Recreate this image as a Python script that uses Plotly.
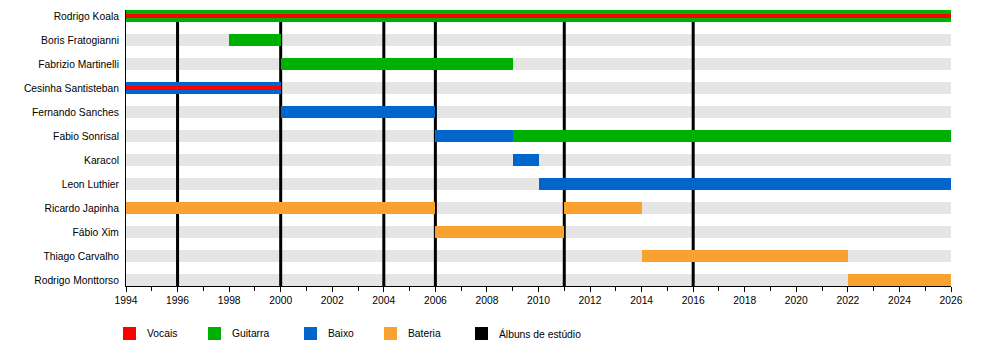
import plotly.graph_objects as go

# ---------------- data ----------------
members = [
    "Rodrigo Koala", "Boris Fratogianni", "Fabrizio Martinelli", "Cesinha Santisteban",
    "Fernando Sanches", "Fabio Sonrisal", "Karacol", "Leon Luthier",
    "Ricardo Japinha", "Fábio Xim", "Thiago Carvalho", "Rodrigo Monttorso",
]
roles = ["Vocais", "Guitarra", "Baixo", "Bateria"]
role_colors = {"Vocais": "#ff0000", "Guitarra": "#00b000", "Baixo": "#0066cc", "Bateria": "#f9a22f"}

period_member = ["Rodrigo Koala", "Rodrigo Koala", "Boris Fratogianni", "Fabrizio Martinelli",
                 "Cesinha Santisteban", "Cesinha Santisteban", "Fernando Sanches",
                 "Fabio Sonrisal", "Fabio Sonrisal", "Karacol", "Leon Luthier",
                 "Ricardo Japinha", "Ricardo Japinha", "Fábio Xim", "Thiago Carvalho",
                 "Rodrigo Monttorso"]
period_role = ["Guitarra", "Vocais", "Guitarra", "Guitarra",
               "Baixo", "Vocais", "Baixo",
               "Baixo", "Guitarra", "Baixo", "Baixo",
               "Bateria", "Bateria", "Bateria", "Bateria",
               "Bateria"]
period_start = [1994, 1994, 1998, 2000, 1994, 1994, 2000, 2006, 2009, 2009, 2010,
                1994, 2011, 2006, 2014, 2022]
period_end = [2026, 2026, 2000, 2009, 2000, 2000, 2006, 2009, 2026, 2010, 2026,
              2006, 2014, 2011, 2022, 2026]

albums = [1996, 2000, 2004, 2006, 2011, 2016]
album_label = "Álbuns de estúdio"
album_color = "#000000"

year_start, year_end = 1994, 2026

# ---------------- figure ----------------
FONT = "Liberation Sans, Arial, Helvetica, sans-serif"
FS = 10.3
GRAY = "#e5e5e5"
BAR_W = 0.5
VOC_W = 0.17

fig = go.Figure()

row_of = {m: i for i, m in enumerate(members)}

shapes = []
# gray background rows
for m in members:
    r = row_of[m]
    shapes.append(dict(type="rect", xref="x", yref="y", layer="below",
                       x0=year_start, x1=year_end, y0=r - BAR_W / 2, y1=r + BAR_W / 2,
                       fillcolor=GRAY, line=dict(width=0)))
# album lines
for a in albums:
    shapes.append(dict(type="line", xref="x", yref="y", layer="below",
                       x0=a, x1=a, y0=BAR_W / 2, y1=len(members) - 1 + BAR_W / 2,
                       line=dict(color=album_color, width=3)))

# colored bars, vocals drawn last (thin on top)
for role in ["Guitarra", "Baixo", "Bateria", "Vocais"]:
    idx = [i for i, r in enumerate(period_role) if r == role]
    if not idx:
        continue
    fig.add_trace(go.Bar(
        orientation="h",
        y=[row_of[period_member[i]] for i in idx],
        base=[period_start[i] for i in idx],
        x=[period_end[i] - period_start[i] for i in idx],
        width=VOC_W if role == "Vocais" else BAR_W,
        marker=dict(color=role_colors[role], line=dict(width=0)),
        name=role, hoverinfo="skip", showlegend=False,
    ))

# manual legend below the chart (positions in screen pixels)
legend_items = roles + [album_label]
legend_colors = [role_colors[r] for r in roles] + [album_color]
legend_sq_x = [123, 208, 304, 384, 475]
legend_tx_x = [145, 230, 326, 406, 497]
plot_l, plot_w, plot_t, plot_h = 126, 825, 10, 276


def px(x):
    return (x - plot_l) / plot_w


def py(y):
    return (plot_t + plot_h - y) / plot_h


annotations = []
for name, col, sx, tx in zip(legend_items, legend_colors, legend_sq_x, legend_tx_x):
    shapes.append(dict(type="rect", xref="paper", yref="paper",
                       x0=px(sx), x1=px(sx + 13), y0=py(340), y1=py(327),
                       fillcolor=col, line=dict(width=0)))
    annotations.append(dict(xref="paper", yref="paper", x=px(tx), y=py(334),
                            xanchor="left", yanchor="middle", showarrow=False,
                            text=name, font=dict(family=FONT, size=FS, color="#000000")))

# page body has an 8px offset, so margins are shifted accordingly
fig.update_layout(
    width=1000, height=360,
    margin=dict(l=118, r=57, t=2, b=82),
    paper_bgcolor="white", plot_bgcolor="white",
    barmode="overlay", bargap=0,
    font=dict(family=FONT, size=FS, color="#000000"),
    shapes=shapes, annotations=annotations,
    showlegend=False,
    xaxis=dict(range=[year_start, year_end], tick0=year_start, dtick=2,
               ticks="outside", ticklen=5, tickwidth=1, tickcolor="black",
               minor=dict(dtick=1, ticks="outside", ticklen=4, tickwidth=1, tickcolor="black"),
               showgrid=False, zeroline=False, showline=True, linecolor="black", linewidth=1,
               tickfont=dict(family=FONT, size=FS, color="#000000"), fixedrange=True),
    yaxis=dict(range=[len(members) - 1 + BAR_W / 2, -BAR_W / 2],
               tickvals=list(range(len(members))), ticktext=members,
               ticks="", showgrid=False, zeroline=False,
               showline=True, linecolor="black", linewidth=1,
               ticklabelstandoff=4,
               tickfont=dict(family=FONT, size=FS, color="#000000"), fixedrange=True),
)

fig.write_html("out.html")
